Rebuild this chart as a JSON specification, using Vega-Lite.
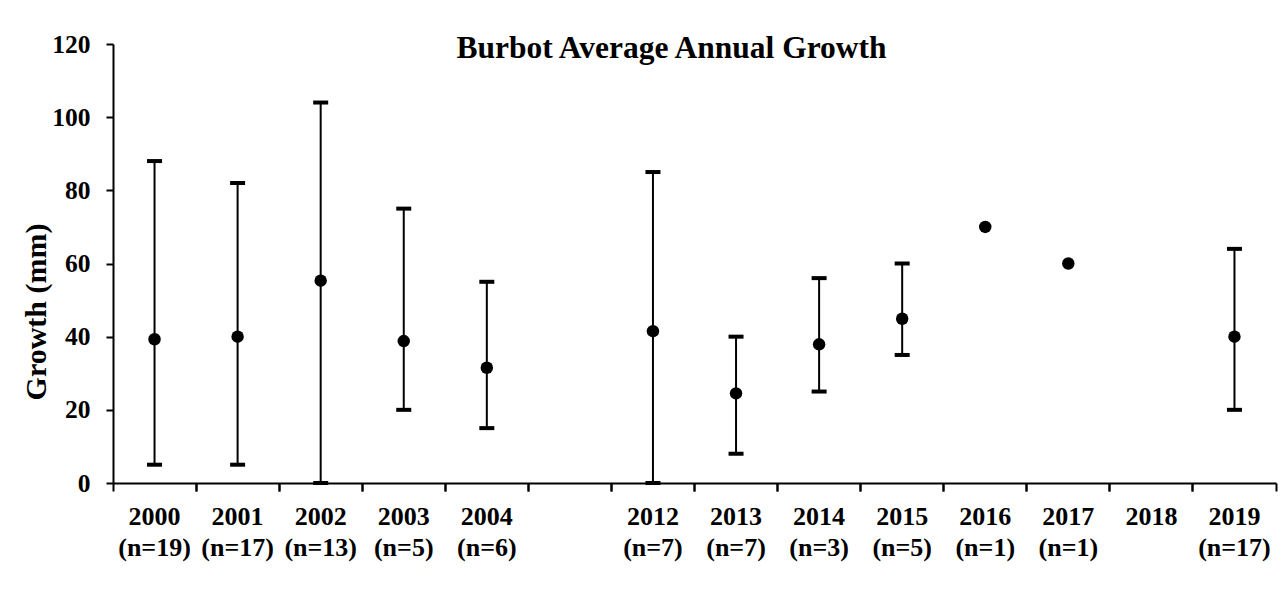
{
  "$schema": "https://vega.github.io/schema/vega-lite/v6.json",
  "autosize": {"type": "none"},
  "width": 1163,
  "height": 439,
  "padding": {"left": 113, "top": 44, "right": 8, "bottom": 107},
  "background": "white",
  "config": {
    "view": {"stroke": null},
    "font": "Liberation Serif"
  },
  "title": {
    "text": "Burbot Average Annual Growth",
    "font": "Liberation Serif",
    "fontSize": 31.5,
    "fontWeight": "bold",
    "color": "black",
    "anchor": "middle",
    "baseline": "alphabetic",
    "dx": -23,
    "offset": -57
  },
  "data": {
    "values": [
      {"cat": "2000 (n=19)", "mean": 39.3, "low": 5, "high": 88},
      {"cat": "2001 (n=17)", "mean": 40, "low": 5, "high": 82},
      {"cat": "2002 (n=13)", "mean": 55.3, "low": 0, "high": 104},
      {"cat": "2003 (n=5)", "mean": 38.8, "low": 20, "high": 75},
      {"cat": "2004 (n=6)", "mean": 31.5, "low": 15, "high": 55},
      {"cat": "2012 (n=7)", "mean": 41.5, "low": 0, "high": 85},
      {"cat": "2013 (n=7)", "mean": 24.5, "low": 8, "high": 40},
      {"cat": "2014 (n=3)", "mean": 37.9, "low": 25, "high": 56},
      {"cat": "2015 (n=5)", "mean": 44.9, "low": 35, "high": 60},
      {"cat": "2016 (n=1)", "mean": 70, "low": null, "high": null},
      {"cat": "2017 (n=1)", "mean": 60, "low": null, "high": null},
      {"cat": "2019 (n=17)", "mean": 40, "low": 20, "high": 64}
    ]
  },
  "resolve": {"axis": {"x": "independent"}},
  "layer": [
    {
      "mark": {"type": "rule", "color": "black", "strokeWidth": 2},
      "encoding": {
        "x": {
          "field": "cat", "type": "nominal",
          "scale": {
            "domain": ["2000 (n=19)", "2001 (n=17)", "2002 (n=13)", "2003 (n=5)", "2004 (n=6)", "gap", "2012 (n=7)", "2013 (n=7)", "2014 (n=3)", "2015 (n=5)", "2016 (n=1)", "2017 (n=1)", "2018", "2019 (n=17)"],
            "paddingInner": 0, "paddingOuter": 0
          },
          "axis": {
            "orient": "bottom",
            "title": null,
            "ticks": false,
            "domain": true,
            "domainColor": "black",
            "domainWidth": 2,
            "labelAngle": 0,
            "labelExpr": "datum.value == 'gap' ? '' : split(datum.value, ' ')",
            "labelFont": "Liberation Serif",
            "labelFontWeight": "bold",
            "labelFontSize": 26,
            "labelColor": "black",
            "labelBaseline": "top",
            "labelLineHeight": 31,
            "labelPadding": 20.5,
            "labelOverlap": false,
            "labelFlush": false,
            "grid": false
          }
        },
        "y": {
          "field": "low", "type": "quantitative",
          "title": "Growth (mm)",
          "scale": {"domain": [0, 120], "nice": false, "zero": true},
          "axis": {
            "values": [0, 20, 40, 60, 80, 100, 120],
            "title": "Growth (mm)",
            "titleFont": "Liberation Serif",
            "titleFontWeight": "bold",
            "titleFontSize": 30,
            "titleColor": "black",
            "titleAngle": -90,
            "titleAlign": "center",
            "titleBaseline": "alphabetic",
            "titleX": -67.5,
            "titleY": 267.5,
            "domainColor": "black",
            "domainWidth": 2,
            "tickColor": "black",
            "tickWidth": 2,
            "tickSize": 7,
            "labelPadding": 16,
            "labelFont": "Liberation Serif",
            "labelFontWeight": "bold",
            "labelFontSize": 25.5,
            "labelColor": "black",
            "grid": false
          }
        },
        "y2": {"field": "high"}
      }
    },
    {
      "mark": {"type": "tick", "orient": "horizontal", "color": "black", "size": 15, "thickness": 4, "opacity": 1},
      "encoding": {
        "x": {
          "field": "cat", "type": "nominal",
          "axis": {
            "orient": "bottom",
            "title": null,
            "labels": false,
            "domain": false,
            "ticks": true,
            "bandPosition": 0,
            "tickColor": "black",
            "tickWidth": 2,
            "tickSize": 8,
            "grid": false
          }
        },
        "y": {"field": "low", "type": "quantitative", "title": "Growth (mm)"}
      }
    },
    {
      "mark": {"type": "tick", "orient": "horizontal", "color": "black", "size": 15, "thickness": 4, "opacity": 1},
      "encoding": {
        "x": {
          "field": "cat", "type": "nominal",
          "axis": {
            "orient": "bottom",
            "title": null,
            "labels": false,
            "domain": false,
            "ticks": true,
            "bandPosition": 1,
            "tickColor": "black",
            "tickWidth": 2,
            "tickSize": 8,
            "grid": false
          }
        },
        "y": {"field": "high", "type": "quantitative", "title": "Growth (mm)"}
      }
    },
    {
      "mark": {"type": "point", "filled": true, "color": "black", "size": 155, "opacity": 1},
      "encoding": {
        "x": {"field": "cat", "type": "nominal", "axis": null},
        "y": {"field": "mean", "type": "quantitative", "title": "Growth (mm)"}
      }
    }
  ]
}
